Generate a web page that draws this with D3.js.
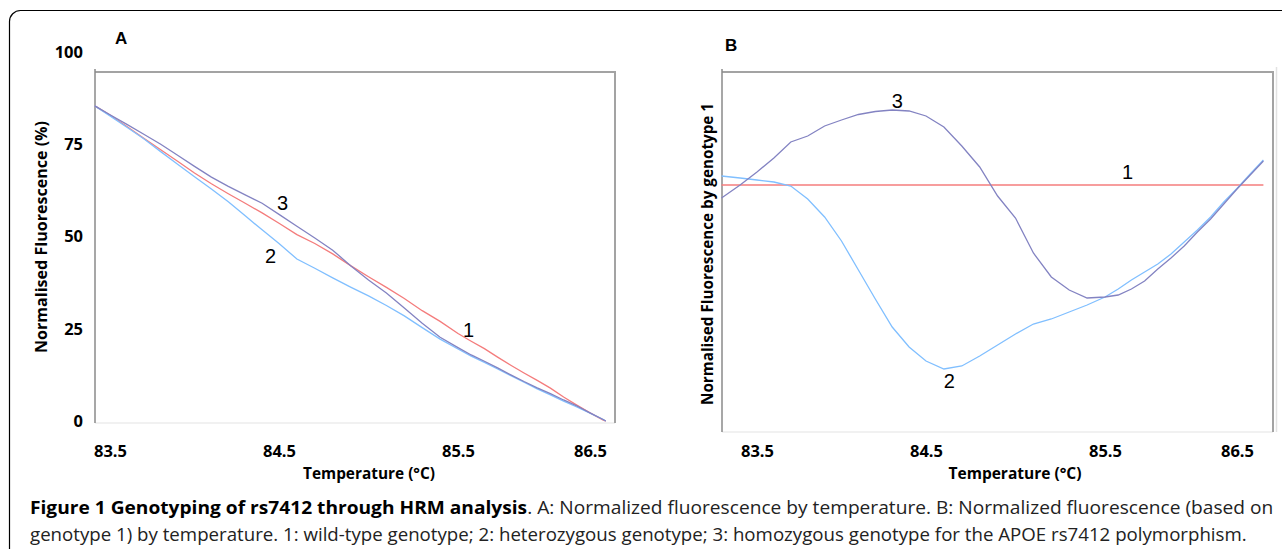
<!DOCTYPE html>
<html lang="en">
<head>
<meta charset="UTF-8">
<title>Genotyping of rs7412 through HRM analysis</title>
<script src="https://d3js.org/d3.v7.min.js"></script>
<style>
  body { margin: 0; background: #fff; }
  svg { display: block; font-family: "Open Sans", sans-serif; }
  .tick text { font-family: "Open Sans", sans-serif; font-weight: bold; font-size: 16.5px; fill: #000; }
  .title { font-weight: bold; font-size: 16px; }
  .letter { font-family: "Liberation Sans", Arial, sans-serif; font-weight: bold; font-size: 17px; }
  .num { font-family: "Liberation Sans", Arial, sans-serif; font-size: 20px; }
  .curve { fill: none; stroke-width: 1.3; }
  .caption { font-size: 18px; fill: #222; }
</style>
</head>
<body>
<svg width="1282" height="549"></svg>
<script>
// Panel A: normalised fluorescence (%) against temperature
const tempA = [83.41, 83.5, 83.6, 83.7, 83.8, 83.9, 84.0, 84.1, 84.2, 84.3, 84.4, 84.5, 84.6, 84.7, 84.8, 84.9,
  85.0, 85.1, 85.2, 85.3, 85.4, 85.5, 85.6, 85.7, 85.8, 85.9, 86.0, 86.1, 86.2, 86.3, 86.4, 86.5, 86.6, 86.62];
const geno1A = [85.4, 82.9, 79.8, 76.6, 73.5, 70.4, 67.2, 64.3, 61.6, 59.0, 56.4, 53.6, 50.5, 48.1, 45.3, 42.1,
  39.1, 36.2, 33.2, 29.9, 27.0, 23.7, 21.6, 19.6, 17.3, 15.1, 13.0, 11.0, 8.9, 6.5, 4.3, 2.2, 0.2, 0];
const geno2A = [85.4, 82.7, 79.6, 76.5, 73.0, 69.6, 66.2, 62.9, 59.4, 55.6, 51.8, 48.1, 43.9, 41.4, 38.8, 36.3,
  33.9, 31.3, 28.5, 25.3, 22.2, 19.5, 17.6, 15.9, 14.1, 12.3, 10.5, 8.7, 7.1, 5.4, 3.8, 2.1, 0.4, 0];
const geno3A = [85.4, 83.0, 80.4, 77.7, 75.0, 72.0, 69.0, 66.1, 63.6, 61.3, 59.0, 56.0, 52.8, 49.6, 46.3, 42.1,
  38.2, 34.7, 30.6, 26.5, 22.7, 19.9, 17.9, 16.2, 14.4, 12.5, 10.7, 9.0, 7.4, 5.7, 4.1, 2.2, 0.4, 0];

// Panel B: fluorescence normalised by genotype 1 (arbitrary units, genotype 1 = 0)
const tempB = [83.29, 83.4, 83.5, 83.6, 83.7, 83.8, 83.9, 84.0, 84.1, 84.2, 84.3, 84.4, 84.5, 84.6, 84.7, 84.8,
  84.9, 85.0, 85.1, 85.2, 85.3, 85.4, 85.5, 85.6, 85.7, 85.8, 85.9, 86.0, 86.1, 86.2, 86.3, 86.4, 86.5, 86.6, 86.7];
const geno1TempB = [83.29, 86.7];
const geno1B = [0, 0];
const geno2B = [0.9, 0.7, 0.5, 0.3, -0.1, -1.4, -3.2, -5.6, -8.5, -11.4, -14.2, -16.2, -17.6, -18.4, -18.1, -17.1,
  -16.0, -14.9, -13.9, -13.4, -12.7, -12.0, -11.2, -10.4, -9.5, -8.7, -7.9, -6.9, -5.7, -4.5, -3.2, -1.7, -0.35, 1.1, 2.5];
const geno3B = [-1.3, 0.0, 1.3, 2.7, 4.3, 4.9, 5.9, 6.5, 7.05, 7.35, 7.5, 7.4, 6.9, 5.8, 3.9, 1.8,
  -1.1, -3.3, -6.8, -9.2, -10.5, -11.3, -11.2, -11.0, -10.4, -9.6, -8.4, -7.3, -6.1, -4.7, -3.4, -1.9, -0.4, 1.0, 2.4];

const tempTicks = [83.5, 84.5, 85.5, 86.5];
const fluoTicks = [0, 25, 50, 75, 100];

// curve numbers: temperature, value, text
const labelsA = [[85.58, 24.7, "1"], [84.45, 44.7, "2"], [84.52, 59.1, "3"]];
const labelsB = [[85.67, 1.3, "1"], [84.63, -19.6, "2"], [84.33, 8.4, "3"]];

const colors = { 1: "#f47c7c", 2: "#80bfff", 3: "#8383c2" };

const svg = d3.select("svg");

// outer rounded frame
svg.append("rect")
  .attr("x", 9.5).attr("y", 10.5)
  .attr("width", 1320).attr("height", 600)
  .attr("rx", 11)
  .attr("fill", "none").attr("stroke", "#000").attr("stroke-width", 1.2);

function drawPanel(p) {
  const g = svg.append("g");
  const f = p.frame;

  // plot box (edges drawn in different greys like the original)
  g.append("line").attr("x1", f.left).attr("x2", f.right).attr("y1", f.bottom).attr("y2", f.bottom)
    .attr("stroke", "#e4e4e4").attr("stroke-width", 1.2);
  g.append("line").attr("x1", f.left).attr("x2", f.right).attr("y1", f.top).attr("y2", f.top)
    .attr("stroke", "#a3a3a3").attr("stroke-width", 2);
  g.append("line").attr("x1", f.right).attr("x2", f.right).attr("y1", f.top - 1).attr("y2", f.bottom)
    .attr("stroke", "#a3a3a3").attr("stroke-width", 2);
  g.append("line").attr("x1", f.left).attr("x2", f.left).attr("y1", f.top - 3).attr("y2", f.bottom)
    .attr("stroke", "#8a8a8a").attr("stroke-width", 1.5);
  if (p.outerEdge) {
    g.append("line").attr("x1", f.right + 3.5).attr("x2", f.right + 3.5).attr("y1", f.top - 5).attr("y2", f.bottom)
      .attr("stroke", "#e2e2e2").attr("stroke-width", 1.5);
  }

  const x = p.x, y = p.y;
  const line = d3.line().x(d => x(d[0])).y(d => y(d[1]));

  p.series.forEach(s => {
    g.append("path")
      .datum(d3.zip(s.t, s.v))
      .attr("class", "curve")
      .attr("stroke", colors[s.id])
      .attr("d", line);
  });

  g.selectAll(".num")
    .data(p.labels)
    .join("text")
    .attr("class", "num")
    .attr("x", d => x(d[0]))
    .attr("y", d => y(d[1]))
    .attr("text-anchor", "middle")
    .attr("dominant-baseline", "central")
    .text(d => d[2]);

  // temperature labels
  const xa = g.append("g")
    .attr("transform", `translate(0,${p.xLabelY})`)
    .call(d3.axisBottom(x).tickValues(tempTicks).tickFormat(d3.format(".1f")).tickSize(0).tickPadding(0));
  xa.select(".domain").remove();

  if (p.yTicks) {
    const ya = g.append("g")
      .attr("transform", `translate(${p.yLabelX},0)`)
      .call(d3.axisLeft(y).tickValues(p.yTicks).tickSize(0).tickPadding(0));
    ya.select(".domain").remove();
  }

  g.append("text").attr("class", "letter")
    .attr("x", p.letter[0]).attr("y", p.letter[1]).text(p.letter[2]);

  g.append("text").attr("class", "title")
    .attr("text-anchor", "middle")
    .attr("x", p.xTitle[0]).attr("y", p.xTitle[1])
    .attr("textLength", p.xTitle[2]).attr("lengthAdjust", "spacingAndGlyphs")
    .text("Temperature (°C)");

  g.append("text").attr("class", "title")
    .attr("text-anchor", "middle")
    .attr("transform", `translate(${p.yTitle[0]},${p.yTitle[1]}) rotate(-90)`)
    .attr("textLength", p.yTitle[2]).attr("lengthAdjust", "spacingAndGlyphs")
    .text(p.yTitleText);
}

drawPanel({
  frame: { left: 95, top: 72, right: 615, bottom: 423 },
  x: d3.scaleLinear().domain(tempTicks).range([110, 279, 458, 590]),
  y: d3.scaleLinear().domain([0, 100]).range([421, 52]),
  series: [
    { id: 1, t: tempA, v: geno1A },
    { id: 2, t: tempA, v: geno2A },
    { id: 3, t: tempA, v: geno3A }
  ],
  labels: labelsA,
  xLabelY: 445,
  yTicks: fluoTicks,
  yLabelX: 83,
  letter: [115, 44, "A"],
  xTitle: [369, 479, 132],
  yTitle: [47, 237, 232],
  yTitleText: "Normalised Fluorescence (%)"
});

drawPanel({
  frame: { left: 722, top: 72, right: 1273, bottom: 432 },
  x: d3.scaleLinear().domain(tempTicks).range([757, 926, 1105, 1237]),
  y: d3.scaleLinear().domain([-24.7, 11.3]).range([432, 72]),
  series: [
    { id: 1, t: geno1TempB, v: geno1B },
    { id: 2, t: tempB, v: geno2B },
    { id: 3, t: tempB, v: geno3B }
  ],
  labels: labelsB,
  outerEdge: true,
  xLabelY: 445,
  letter: [725, 51, "B"],
  xTitle: [1015, 479, 133],
  yTitle: [713, 254, 302],
  yTitleText: "Normalised Fluorescence by genotype 1"
});

// caption
function fitLine(sel, x, y, width) {
  const w = sel.node().getComputedTextLength();
  sel.attr("transform", `translate(${x},${y}) scale(${width / w},1)`);
}

const cap1 = svg.append("text").attr("class", "caption");
cap1.append("tspan").attr("font-weight", "bold").attr("fill", "#000")
  .text("Figure 1 Genotyping of rs7412 through HRM analysis");
cap1.append("tspan")
  .text(". A: Normalized fluorescence by temperature. B: Normalized fluorescence (based on");
fitLine(cap1, 30, 514, 1244);

const cap2 = svg.append("text").attr("class", "caption")
  .text("genotype 1) by temperature. 1: wild-type genotype; 2: heterozygous genotype; 3: homozygous genotype for the APOE rs7412 polymorphism.");
fitLine(cap2, 30, 541, 1218);
</script>
</body>
</html>
